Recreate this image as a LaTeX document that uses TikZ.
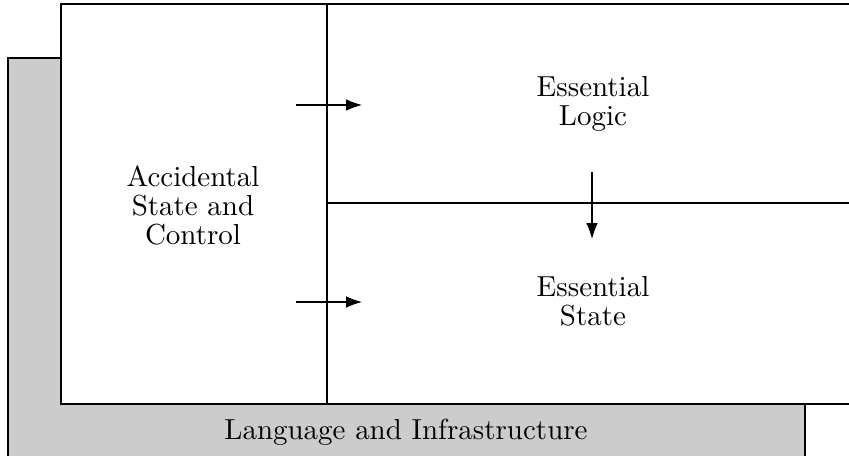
\documentclass[tikz,border=0pt]{standalone}
\usetikzlibrary{arrows.meta}
\usetikzlibrary{positioning}
\tikzset{>=stealth}
\tikzstyle{line} = [draw, -{Latex[length=5.5pt,width=4pt]}]

\begin{document}
\begin{tikzpicture}[x=0.345pt, y=-0.345pt,
		auto,
		txt/.style={align=center, font=\fontsize{10}{10}\selectfont},
		layer/.style={draw, rectangle}]
		\clip (0,0) rectangle (849,456);
		%% Layers
		\path [layer, fill=black!20] (8,58) rectangle (805,470);
		\path [layer, fill=white] (61,4) rectangle (870,404);
		\coordinate (DivTop) at (327,4);
		\coordinate (DivBot) at (327,404);
		\coordinate (Mid) at (327,203);
		\coordinate (MidEnd) at (870,203);
		\draw (DivTop) -- (DivBot);
		\draw (Mid) -- (MidEnd);
		%% Texts
		\node [txt] at (193,205) (Acc) {Accidental\\State and\\Control};
		\node [txt] at (593,104) (Logic) {Essential\\Logic};
		\node [txt] at (593,301) (State) {Essential\\State};
		\node [txt] at (406,432) (Lang) {Language and Infrastructure};
		%% Flows
		\coordinate (AccA) at (296,105);
		\coordinate (AccB) at (296,302);
		\coordinate (LogicIn) at (362,105);
		\coordinate (StateIn) at (362,302);
		\coordinate (LogicOut) at (592,172);
		\coordinate (StateTop) at (592,239);
		\path [line] (AccA) -- (LogicIn);
		\path [line] (AccB) -- (StateIn);
		\path [line] (LogicOut) -- (StateTop);
	\end{tikzpicture}
\end{document}
